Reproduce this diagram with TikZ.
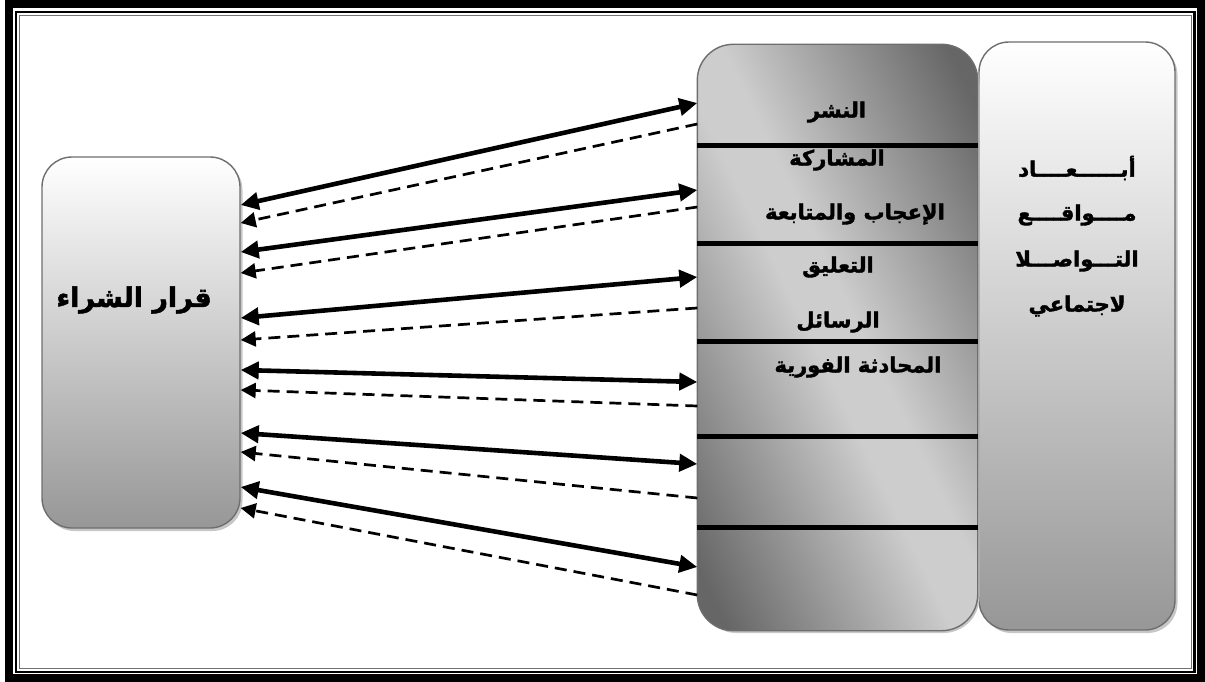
\documentclass[tikz,border=0pt]{standalone}
\usepackage{fontspec}
\newfontfamily\arabicfont[Script=Arabic, BoldFeatures={FakeBold=1.8}]{DejaVu Sans}
\TeXXeTstate=1
\usetikzlibrary{arrows.meta,shadows,calc}
\definecolor{boxgray}{HTML}{979797}
\definecolor{mdark}{HTML}{666666}
\definecolor{mlight}{HTML}{CDCDCD}
\definecolor{edgegray}{HTML}{6E6E6E}
\pgfdeclareverticalshading{midshade}{100bp}{color(0bp)=(mdark); color(31bp)=(mdark); color(48bp)=(mlight); color(52bp)=(mlight); color(69bp)=(mdark); color(100bp)=(mdark)}
\begin{document}
\begin{tikzpicture}[x=1pt,y=-1pt,
  box/.style={draw=edgegray, line width=1.4pt, inner sep=0pt,
    drop shadow={shadow xshift=2.5pt, shadow yshift=-3pt, fill=black!22, opacity=1}},
  sepline/.style={line width=5pt, black},
  solidarr/.style={line width=4.6pt, {Triangle[length=18pt,width=17pt]}-{Triangle[length=18pt,width=17pt]}},
  dasharr/.style={line width=2.7pt, dash pattern=on 12pt off 7pt, -{Triangle[length=15pt,width=15pt]}},
  lbl/.style={inner sep=0pt},
  midtxt/.style={lbl, font=\arabicfont\bfseries\fontsize{21}{24}\selectfont},
  righttxt/.style={lbl, font=\arabicfont\bfseries\fontsize{21}{24}\selectfont}
]
\useasboundingbox (0,0) rectangle (1205,682);
% frame
\draw[line width=8pt] (9,4) rectangle (1201,678);
\draw[line width=2.4pt] (16,12) rectangle (1194.5,672);
\draw[line width=0.9pt, black!55] (19.5,15) rectangle (1191,668);

% boxes
\node[box, rounded corners=30pt, minimum width=198pt, minimum height=371pt,
      top color=white, bottom color=boxgray] (L) at (141,342.5) {};
\node[box, rounded corners=30pt, minimum width=196pt, minimum height=588pt,
      top color=white, bottom color=boxgray] (R) at (1077,336) {};
\node[box, rounded corners=36pt, minimum width=279pt, minimum height=585pt,
      fill=mlight] (M) at (837.5,337.5) {};
\begin{scope}
  \clip[rounded corners=36pt] (M.south west) rectangle (M.north east);
  \shade[shading=midshade, shading angle=-64]
    ($(M.center)+(-300,-300)$) rectangle ($(M.center)+(300,300)$);
\end{scope}
\draw[draw=edgegray, line width=1.4pt, rounded corners=36pt] (M.south west) rectangle (M.north east);

% separator lines
\foreach \yy in {146,243,341,436,527}
  \draw[sepline] (M.west |- 0,\yy) -- (M.east |- 0,\yy);

% texts
\node[lbl, font=\arabicfont\bfseries\fontsize{27}{30}\selectfont] (Lt) at (134,300) {\beginR قرار الشراء\endR};

\node[midtxt] (m1) at (837,112) {\beginR النشر\endR};
\node[midtxt] (m2) at (837,160) {\beginR المشاركة\endR};
\node[midtxt] (m3) at (855,214) {\beginR الإعجاب والمتابعة\endR};
\node[midtxt] (m4) at (838,267) {\beginR التعليق\endR};
\node[midtxt] (m5) at (838,322) {\beginR الرسائل\endR};
\node[midtxt] (m6) at (858,367) {\beginR المحادثة الفورية\endR};

\node[righttxt] (r1) at (1077,168) {\beginR أبــــــعــــاد\endR};
\node[righttxt] (r2) at (1077,215) {\beginR مــــواقــــع\endR};
\node[righttxt] (r3) at (1077,261) {\beginR التـــواصـــلا\endR};
\node[righttxt] (r4) at (1077,306) {\beginR لاجتماعي\endR};

% connectors
\draw[solidarr] (L.east |- 0,205) -- (M.west |- 0,103);
\draw[dasharr]  (M.west |- 0,124) -- (L.east |- 0,223);
\draw[solidarr] (L.east |- 0,252) -- (M.west |- 0,190);
\draw[dasharr]  (M.west |- 0,207) -- (L.east |- 0,273);
\draw[solidarr] (L.east |- 0,318) -- (M.west |- 0,277);
\draw[dasharr]  (M.west |- 0,308) -- (L.east |- 0,340);
\draw[solidarr] (L.east |- 0,370) -- (M.west |- 0,382);
\draw[dasharr]  (M.west |- 0,406) -- (L.east |- 0,390);
\draw[solidarr] (L.east |- 0,433) -- (M.west |- 0,464);
\draw[dasharr]  (M.west |- 0,498) -- (L.east |- 0,452);
\draw[solidarr] (L.east |- 0,487) -- (M.west |- 0,567);
\draw[dasharr]  (M.west |- 0,595) -- (L.east |- 0,508);
\end{tikzpicture}
\end{document}
